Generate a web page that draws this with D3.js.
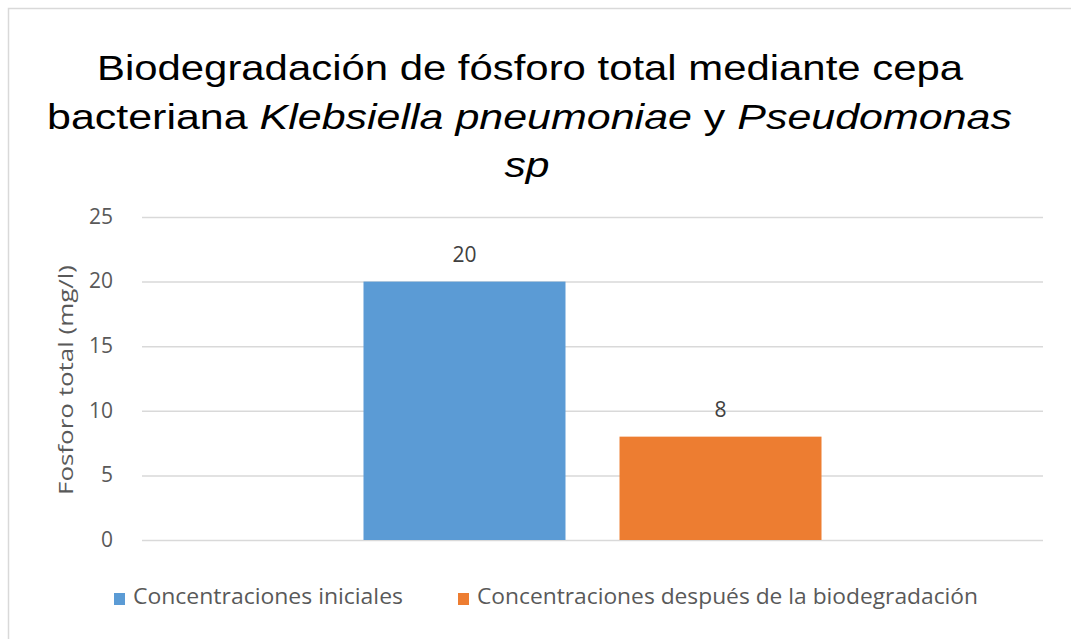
<!DOCTYPE html>
<html><head><meta charset="utf-8">
<script src="https://cdn.jsdelivr.net/npm/d3@7"></script>
<style>body{margin:0;background:#fff}svg{display:block}</style>
</head><body>
<svg id="c" width="1071" height="639"></svg>
<script>
const categories = ["Fósforo total"];
const seriesNames = ["Concentraciones iniciales", "Concentraciones después de la biodegradación"];
const seriesValues = [20, 8];
const seriesColors = ["#5b9bd5", "#ed7d31"];
const yTicks = [0, 5, 10, 15, 20, 25];

const svg = d3.select("#c");
const W = 1071, H = 639;
svg.append("rect").attr("x", 8.5).attr("y", 8.5).attr("width", W).attr("height", H)
  .attr("fill", "#fff").attr("stroke", "#d9d9d9").attr("stroke-width", 1.5);

const m = {left: 142, right: 1043, top: 217, bottom: 540};
const y = d3.scaleLinear().domain([0, 25]).range([m.bottom, m.top]);
const x0 = d3.scaleBand().domain(categories).range([m.left, m.right]).paddingInner(0).paddingOuter(0.4836);
const x1 = d3.scaleBand().domain(seriesNames).range([0, x0.bandwidth()]).paddingInner(0.211);

const lf = "Open Sans, sans-serif";
// gridlines
const yAxis = d3.axisLeft(y).tickValues(yTicks).tickSize(-(m.right - m.left)).tickPadding(29);
const ga = svg.append("g").attr("transform", `translate(${m.left},0)`).call(yAxis);
ga.select(".domain").remove();
ga.selectAll(".tick line").attr("stroke", "#d9d9d9").attr("stroke-width", 1.5);
ga.selectAll(".tick text").attr("fill", "#595959").attr("font-family", lf).attr("font-size", 21).attr("dy", "0.3em");

// bars
const g = svg.append("g");
categories.forEach(cat => {
  seriesNames.forEach((s, i) => {
    const bx = x0(cat) + x1(s);
    g.append("rect").attr("x", bx).attr("y", y(seriesValues[i]))
      .attr("width", x1.bandwidth()).attr("height", y(0) - y(seriesValues[i]))
      .attr("fill", seriesColors[i]);
    g.append("text").attr("x", bx + x1.bandwidth() / 2).attr("y", y(seriesValues[i]) - 20)
      .attr("text-anchor", "middle").attr("fill", "#404040")
      .attr("font-family", lf).attr("font-size", 21)
      .text(seriesValues[i]);
  });
});

// y axis title
svg.append("text").attr("transform", "translate(73,380) rotate(-90)")
  .attr("text-anchor", "middle").attr("fill", "#595959")
  .attr("font-family", lf).attr("font-size", 20)
  .attr("textLength", 230).attr("lengthAdjust", "spacingAndGlyphs")
  .text("Fosforo total (mg/l)");

// title
const tf = "Liberation Sans, Arial, sans-serif";
svg.append("text").attr("x", 530).attr("y", 80).attr("text-anchor", "middle")
  .attr("font-family", tf).attr("font-size", 35).attr("fill", "#000")
  .attr("textLength", 866).attr("lengthAdjust", "spacingAndGlyphs")
  .text("Biodegradación de fósforo total mediante cepa");
const t2 = svg.append("text").attr("x", 529.5).attr("y", 129).attr("text-anchor", "middle")
  .attr("font-family", tf).attr("font-size", 35).attr("fill", "#000")
  .attr("textLength", 965).attr("lengthAdjust", "spacingAndGlyphs");
t2.append("tspan").text("bacteriana ");
t2.append("tspan").attr("font-style", "italic").text("Klebsiella pneumoniae");
t2.append("tspan").text(" y ");
t2.append("tspan").attr("font-style", "italic").text("Pseudomonas");
svg.append("text").attr("x", 527).attr("y", 177).attr("text-anchor", "middle")
  .attr("font-family", tf).attr("font-size", 35).attr("font-style", "italic").attr("fill", "#000")
  .attr("textLength", 45).attr("lengthAdjust", "spacingAndGlyphs")
  .text("sp");

// legend
const legX = [114, 458];
const legLen = [270, 501];
seriesNames.forEach((s, i) => {
  svg.append("rect").attr("x", legX[i]).attr("y", 593).attr("width", 11).attr("height", 12).attr("fill", seriesColors[i]);
  svg.append("text").attr("x", legX[i] + 19).attr("y", 604).attr("fill", "#595959")
    .attr("font-family", lf).attr("font-size", 21)
    .attr("textLength", legLen[i]).attr("lengthAdjust", "spacingAndGlyphs").text(s);
});
</script>
</body></html>
